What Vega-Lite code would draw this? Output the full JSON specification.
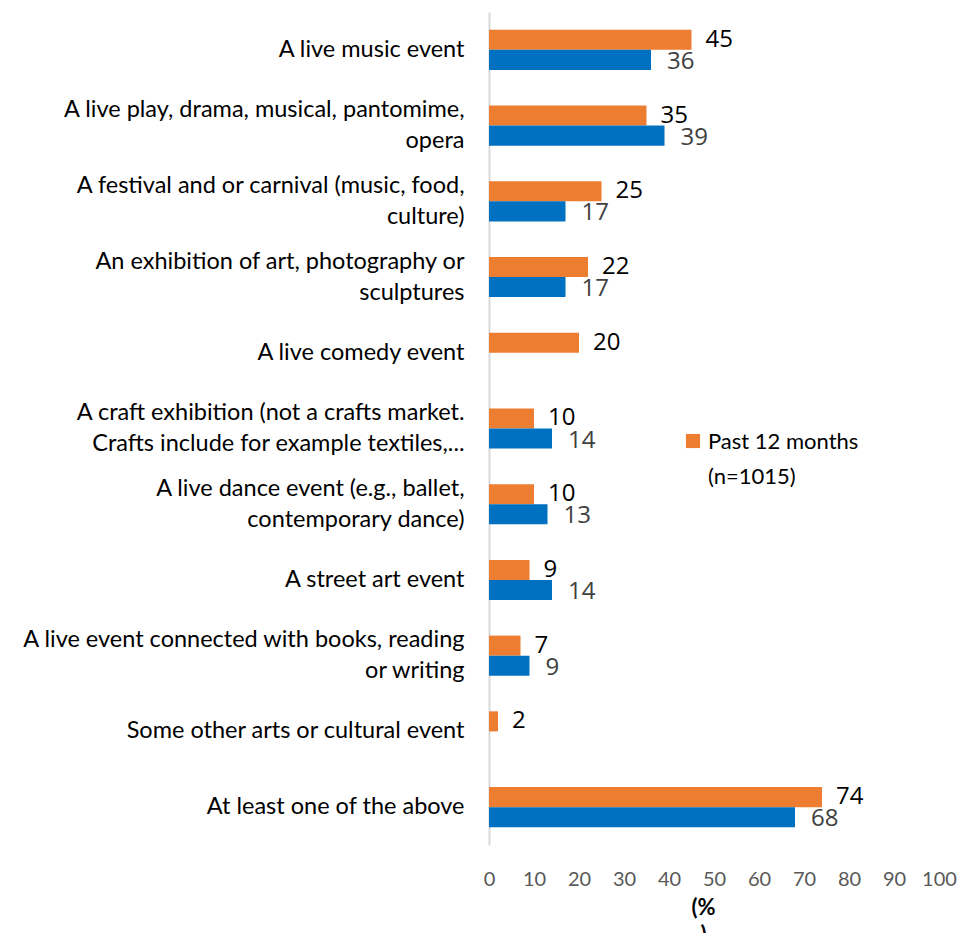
{
  "$schema": "https://vega.github.io/schema/vega-lite/v6.json",
  "autosize": {"type": "none"},
  "width": 450,
  "height": 833,
  "padding": {"left": 489, "top": 12, "right": 24, "bottom": 88},
  "background": "white",
  "config": {"view": {"stroke": null}, "font": "Lato"},
  "data": {"values": [
    {"cat": "A live music event", "series": "Past 12 months|(n=1015)", "value": 45},
    {"cat": "A live music event", "series": "Comparison", "value": 36},
    {"cat": "A live play, drama, musical, pantomime,|opera", "series": "Past 12 months|(n=1015)", "value": 35},
    {"cat": "A live play, drama, musical, pantomime,|opera", "series": "Comparison", "value": 39},
    {"cat": "A festival and or carnival (music, food,|culture)", "series": "Past 12 months|(n=1015)", "value": 25},
    {"cat": "A festival and or carnival (music, food,|culture)", "series": "Comparison", "value": 17},
    {"cat": "An exhibition of art, photography or|sculptures", "series": "Past 12 months|(n=1015)", "value": 22},
    {"cat": "An exhibition of art, photography or|sculptures", "series": "Comparison", "value": 17},
    {"cat": "A live comedy event", "series": "Past 12 months|(n=1015)", "value": 20},
    {"cat": "A live comedy event", "series": "Comparison", "value": null},
    {"cat": "A craft exhibition (not a crafts market.|Crafts include for example textiles,...", "series": "Past 12 months|(n=1015)", "value": 10},
    {"cat": "A craft exhibition (not a crafts market.|Crafts include for example textiles,...", "series": "Comparison", "value": 14},
    {"cat": "A live dance event (e.g., ballet,|contemporary dance)", "series": "Past 12 months|(n=1015)", "value": 10},
    {"cat": "A live dance event (e.g., ballet,|contemporary dance)", "series": "Comparison", "value": 13},
    {"cat": "A street art event", "series": "Past 12 months|(n=1015)", "value": 9},
    {"cat": "A street art event", "series": "Comparison", "value": 14},
    {"cat": "A live event connected with books, reading|or writing", "series": "Past 12 months|(n=1015)", "value": 7},
    {"cat": "A live event connected with books, reading|or writing", "series": "Comparison", "value": 9},
    {"cat": "Some other arts or cultural event", "series": "Past 12 months|(n=1015)", "value": 2},
    {"cat": "Some other arts or cultural event", "series": "Comparison", "value": null},
    {"cat": "At least one of the above", "series": "Past 12 months|(n=1015)", "value": 74},
    {"cat": "At least one of the above", "series": "Comparison", "value": 68}
  ]},
  "encoding": {
    "y": {
      "field": "cat", "type": "nominal", "sort": null,
      "scale": {"paddingInner": 0.47, "paddingOuter": 0.235},
      "axis": {
        "title": null, "ticks": false, "domainColor": "#D9D9D9", "domainWidth": 2,
        "labelExpr": "split(datum.label, '|')", "labelFontSize": 23.5, "labelColor": "#000000",
        "labelPadding": 25, "labelLimit": 600, "labelLineHeight": 31,
        "labelOffset": {"expr": "indexof(datum.value, '|') >= 0 ? -15.5 : 0"}
      }
    },
    "yOffset": {"field": "series", "type": "nominal", "sort": ["Past 12 months|(n=1015)", "Comparison"], "scale": {"paddingInner": 0, "paddingOuter": 0}},
    "x": {
      "field": "value", "type": "quantitative",
      "scale": {"domain": [0, 100], "nice": false},
      "axis": {
        "values": [0,10,20,30,40,50,60,70,80,90,100],
        "title": ["(%", ")"], "titleFontSize": 22, "titleFontWeight": "bold", "titleColor": "#000000",
        "titlePadding": 8, "titleLineHeight": 27, "titleX": 214,
        "domain": false, "ticks": false, "grid": false, "labelFlush": false, "labelOverlap": false,
        "labelFontSize": 20, "labelColor": "#595959", "labelPadding": 24
      }
    }
  },
  "layer": [
    {
      "mark": {"type": "bar"},
      "encoding": {
        "color": {
          "field": "series", "type": "nominal",
          "scale": {"domain": ["Past 12 months|(n=1015)", "Comparison"], "range": ["#ED7D31", "#0070C0"]},
          "legend": {
            "values": ["Past 12 months|(n=1015)"], "title": null, "orient": "none",
            "legendX": 193, "legendY": 418, "symbolType": "square", "symbolSize": 200,
            "labelExpr": "split(datum.label, '|')", "labelFontSize": 22, "labelColor": "#000000",
            "labelLimit": 300, "labelBaseline": "alphabetic", "labelOffset": 4,
            "encode": {"labels": {"update": {"lineHeight": {"value": 35}, "dy": {"value": 8}}}}
          }
        }
      }
    },
    {
      "transform": [{"filter": "datum.series == 'Past 12 months|(n=1015)' && datum.value != null"}],
      "mark": {"type": "text", "align": "left", "baseline": "middle", "dx": 14, "fontSize": 24, "font": "Open Sans", "color": "#000000"},
      "encoding": {"text": {"field": "value", "type": "quantitative"}}
    },
    {
      "transform": [{"filter": "datum.series == 'Comparison' && datum.value != null"}],
      "mark": {"type": "text", "align": "left", "baseline": "middle", "dx": 16, "dy": 2, "fontSize": 24, "font": "Open Sans", "color": "#404040"},
      "encoding": {"text": {"field": "value", "type": "quantitative"}}
    }
  ]
}
